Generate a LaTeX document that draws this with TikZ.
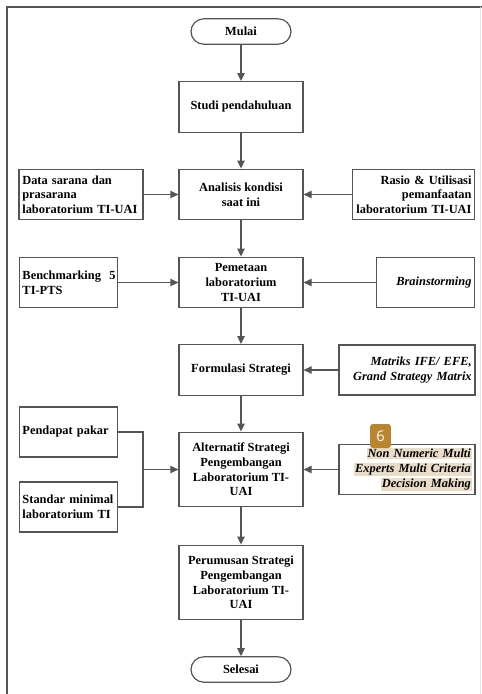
\documentclass[tikz,border=0pt]{standalone}
\usepackage{fontspec}
\setmainfont{Liberation Serif}
\newfontfamily\tagfont{Open Sans}
\usetikzlibrary{arrows.meta}

\definecolor{linegray}{RGB}{85,85,85}
\definecolor{hlbeige}{RGB}{233,221,199}
\definecolor{badgegold}{RGB}{185,134,46}

\newcommand{\hlmark}[1]{{\setlength{\fboxsep}{0.6pt}\colorbox{hlbeige}{#1}}}

\tikzset{
    base/.style={draw=linegray, line width=0.9pt, fill=white, inner sep=2.5pt,
        font=\bfseries\fontsize{9.3}{11}\selectfont},
    mainbox/.style={base, minimum width=93pt, minimum height=38pt, align=center},
    tallbox/.style={mainbox, minimum height=56pt},
    term/.style={base, rounded corners=9.5pt, minimum width=75pt, minimum height=19pt},
    lbox/.style={base, text width=#1, minimum height=37.5pt, align=left},
    rbox/.style={base, text width=#1, minimum height=37.5pt, align=right},
    arrow/.style={draw=linegray, line width=0.9pt, -{Triangle[length=6pt,width=5.5pt]}},
    line/.style={draw=linegray, line width=0.9pt},
    badge/.style={fill=badgegold, text=white, rounded corners=2pt, minimum width=15.5pt,
        minimum height=18pt, inner sep=0pt, font=\tagfont\fontsize{11}{11}\selectfont}
}

\begin{document}
\begin{tikzpicture}[x=0.75pt, y=-0.75pt]
    \useasboundingbox (0,0) rectangle (482,694);

    % Frame
    \draw[linegray, line width=1.1pt] (7,694) -- (7,7) -- (482,7);
    \draw[gray!20, line width=0.6pt] (480,7) -- (480,694);

    % Main flow
    \node[term] (mulai) at (241,31.5) {Mulai};
    \node[mainbox] (studi) at (241,107) {Studi pendahuluan};
    \node[mainbox] (analisis) at (241,194.5) {Analisis kondisi\\saat ini};
    \node[mainbox] (pemetaan) at (241,282.5) {Pemetaan\\laboratorium\\TI-UAI};
    \node[mainbox] (formulasi) at (241,370) {Formulasi Strategi};
    \node[tallbox] (alternatif) at (241,469.5) {Alternatif Strategi\\Pengembangan\\Laboratorium TI-\\UAI};
    \node[tallbox] (perumusan) at (241,582.5) {Perumusan Strategi\\Pengembangan\\Laboratorium TI-\\UAI};
    \node[term] (selesai) at (241,669.5) {Selesai};

    % Inputs on the left
    \node[lbox=88pt] (data) at (81,194.5) {Data sarana dan\\prasarana\\laboratorium TI-UAI};
    \node[lbox=69pt] (bench) at (68.5,282.5) {Benchmarking~~5\\TI-PTS};
    \node[lbox=69pt] (pendapat) at (68.5,432) {Pendapat pakar};
    \node[lbox=69pt] (standar) at (68.5,507) {Standar minimal\\laboratorium TI};

    % Inputs on the right
    \node[rbox=87pt] (rasio) at (413.5,194.5) {Rasio \& Utilisasi\\pemanfaatan\\laboratorium TI-UAI};
    \node[rbox=69pt] (brain) at (425.5,282.5) {\itshape Brainstorming};
    \node[rbox=97pt] (matriks) at (407,370) {\itshape Matriks IFE/ EFE,\\\itshape Grand Strategy Matrix};
    \node[rbox=97pt] (nonnum) at (407,469.5) {\itshape\hlmark{Non Numeric Multi}\\\itshape\hlmark{Experts Multi Criteria}\\\itshape\hlmark{Decision Making}};
    \node[badge] (tag) at (380.5,436) {6};

    % Main arrows
    \draw[arrow] (mulai) -- (studi);
    \draw[arrow] (studi) -- (analisis);
    \draw[arrow] (analisis) -- (pemetaan);
    \draw[arrow] (pemetaan) -- (formulasi);
    \draw[arrow] (formulasi) -- (alternatif);
    \draw[arrow] (alternatif) -- (perumusan);
    \draw[arrow] (perumusan) -- (selesai);

    % Side arrows
    \draw[arrow] (data) -- (analisis);
    \draw[arrow] (rasio) -- (analisis);
    \draw[arrow] (bench) -- (pemetaan);
    \draw[arrow] (brain) -- (pemetaan);
    \draw[arrow] (matriks) -- (formulasi);
    \draw[arrow] (nonnum) -- (alternatif);

    % Joined inputs
    \coordinate (jn) at (143,469.5);
    \draw[line] (pendapat.east) -| (jn);
    \draw[line] (standar.east) -| (jn);
    \draw[arrow] (jn) -- (alternatif.west);
\end{tikzpicture}
\end{document}
